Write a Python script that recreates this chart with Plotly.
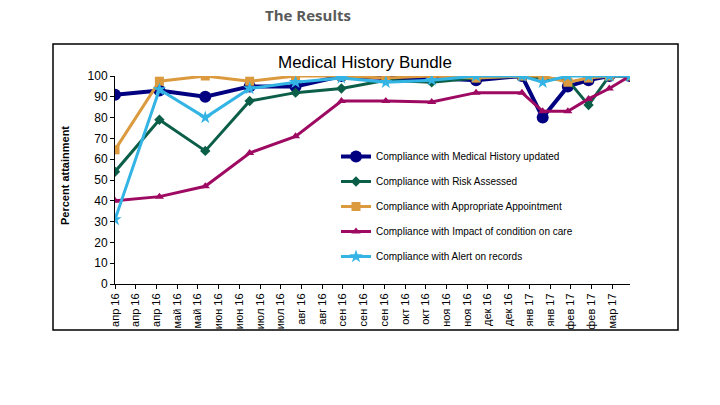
import plotly.graph_objects as go
import pandas as pd

dates = ["2016-04-01", "2016-05-01", "2016-06-01", "2016-07-01", "2016-08-01",
         "2016-09-01", "2016-10-01", "2016-11-01", "2016-12-01", "2017-01-01",
         "2017-01-15", "2017-02-01", "2017-02-15", "2017-03-01", "2017-03-15"]

medical_history = [91, 93, 90, 95, 95, 100, 99, 99, 98, 100, 80, 95, 98, 100, 100]
risk_assessed = [54, 79, 64, 88, 92, 94, 98, 97, 99, 100, 99, 98, 86, 100, 100]
appointment = [64.5, 97.5, 100, 97.5, 100, 100, 99, 100, 99, 100, 100, 97, 99, 100, 100]
impact = [40, 42, 47, 63, 71, 88, 88, 87.5, 92, 92, 83, 83, 89, 94, 100]
alert = [31, 93.5, 80, 94, 97, 99, 97, 98, 100, 100, 97, 100, 100, 100, 100]

tick_dates = [d.strftime("%Y-%m-%d") for d in pd.date_range("2016-04-01", "2017-03-03", freq="14D")]
tick_labels = ["апр 16", "апр 16", "апр 16", "май 16", "май 16", "июн 16", "июн 16",
               "июл 16", "июл 16", "авг 16", "авг 16", "сен 16", "сен 16", "сен 16",
               "окт 16", "окт 16", "ноя 16", "ноя 16", "дек 16", "дек 16", "янв 17",
               "янв 17", "фев 17", "фев 17", "мар 17"]

series = [
    ("Compliance with Medical History updated", medical_history, "#000080", 4, "circle", 12),
    ("Compliance with Risk Assessed", risk_assessed, "#0B5E47", 3, "diamond", 8),
    ("Compliance with Appropriate Appointment", appointment, "#DB9A3E", 3, "square", 9),
    ("Compliance with Impact of condition on care", impact, "#9E0A62", 3, "triangle-up", 8),
    ("Compliance with Alert on records", alert, "#33B4E4", 3, "star", 10),
]

fig = go.Figure()
for i, (name, vals, color, w, sym, ms) in enumerate(series):
    fig.add_trace(go.Scatter(
        x=dates, y=vals, name=name, mode="lines+markers",
        line=dict(color=color, width=w),
        marker=dict(symbol=sym, size=ms, color=color),
        legendgroup=str(i),
    ))

W, H = 720, 405
# plot area in page pixel coordinates
X0, X1, Y0, Y1 = 115, 630, 76, 284
L, R, T, B = X0, W - X1, Y0, H - Y1
pw, ph = X1 - X0, Y1 - Y0

def px(xp):
    return (xp - X0) / pw

def py(yp):
    return (Y1 - yp) / ph

fig.update_layout(
    width=W, height=H,
    margin=dict(l=L, r=R, t=T, b=B, autoexpand=False),
    paper_bgcolor="white", plot_bgcolor="white",
    font=dict(family="Liberation Sans, Arial", color="black"),
    showlegend=True,
    legend=dict(
        x=px(336), y=py(142), xanchor="left", yanchor="top",
        bgcolor="rgba(0,0,0,0)", font=dict(size=10, family="Liberation Sans, Arial"),
        traceorder="grouped", tracegroupgap=6, itemwidth=30,
    ),
    xaxis=dict(
        type="date", range=["2016-04-01", "2017-03-15"],
        tickmode="array", tickvals=tick_dates, ticktext=tick_labels,
        tickangle=-90, tickfont=dict(size=11),
        showgrid=False, zeroline=False, showline=True, linecolor="black", linewidth=1,
        ticks="outside", ticklen=4, tickcolor="black",
    ),
    yaxis=dict(
        range=[0, 100], tickvals=list(range(0, 101, 10)), tickfont=dict(size=12),
        showgrid=False, zeroline=False, showline=True, linecolor="black", linewidth=1,
        ticks="outside", ticklen=4, tickcolor="black",
    ),
    shapes=[dict(type="rect", xref="paper", yref="paper",
                 x0=px(53), x1=px(678), y0=py(330), y1=py(44),
                 line=dict(color="black", width=1.5), layer="below")],
    annotations=[
        dict(text="<b>The Results</b>", xref="paper", yref="paper", x=px(308), y=py(15),
             xanchor="center", yanchor="middle",
             showarrow=False, font=dict(size=15, color="#595959", family="Open Sans, DejaVu Sans")),
        dict(text="Medical History Bundle", xref="paper", yref="paper", x=px(365), y=py(62),
             xanchor="center", yanchor="middle",
             showarrow=False, font=dict(size=17, color="black")),
        dict(text="<b>Percent attainment</b>", xref="paper", yref="paper", x=px(65), y=py(176),
             xanchor="center", yanchor="middle",
             showarrow=False, textangle=-90, font=dict(size=11, color="black")),
    ],
)

fig.write_html("out.html", config={"displayModeBar": False},
               post_script="document.body.style.margin='0px';")
